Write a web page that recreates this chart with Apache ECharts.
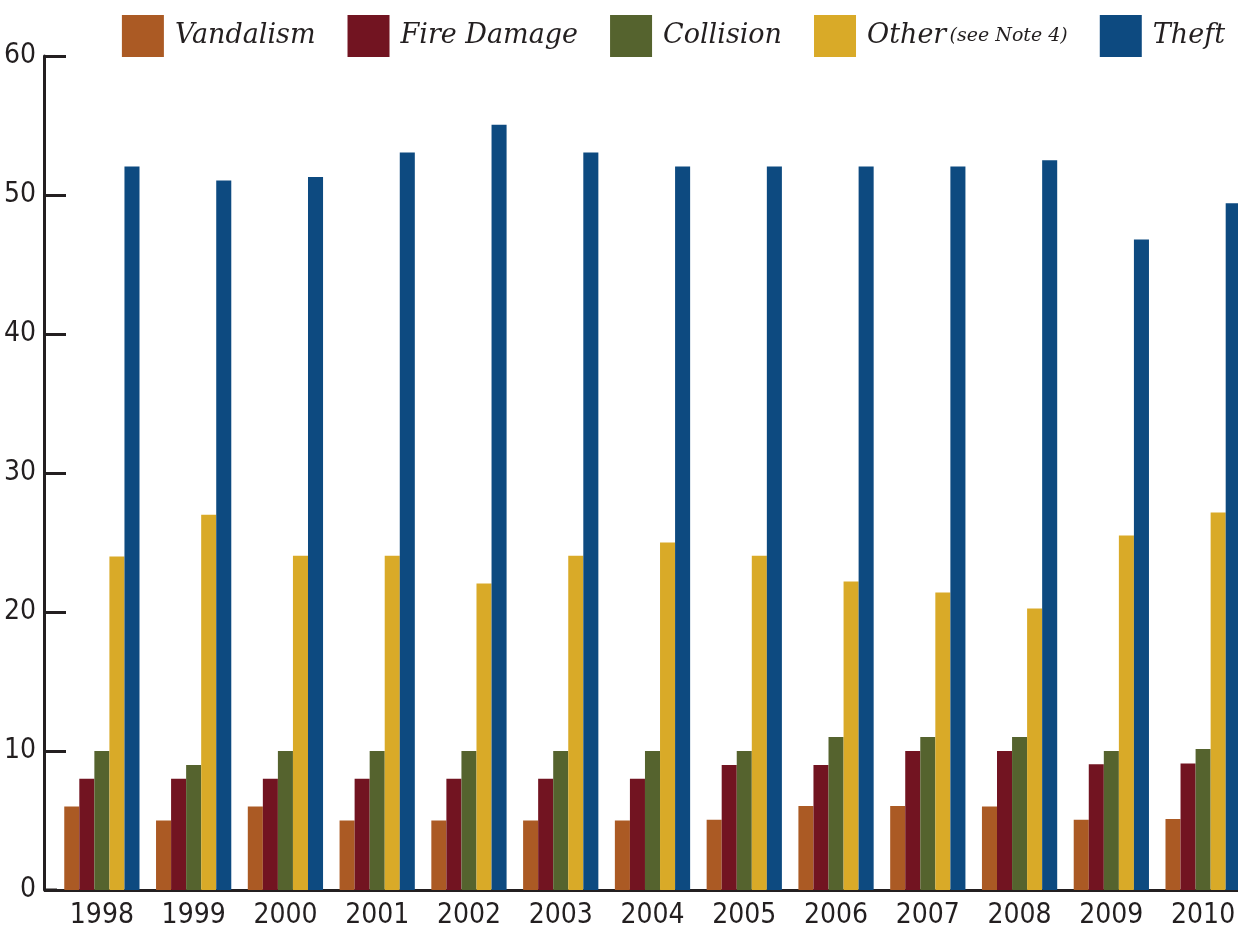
<!DOCTYPE html>
<html>
<head>
    <meta charset="utf-8">
    <title>Vehicle claims by type</title>
    <script src="https://cdn.jsdelivr.net/npm/echarts@6/dist/echarts.min.js"></script>
    <style>
        html, body { margin: 0; padding: 0; background: #fff; }
    </style>
</head>
<body>
    <div id="main" style="width:1238px; height:931px;"></div>
    <script type="text/javascript">
    // data
    var years = ['1998','1999','2000','2001','2002','2003','2004','2005','2006','2007','2008','2009','2010'];
    var vandalism  = [6, 5, 6, 5, 5, 5, 5, 5.05, 6.05, 6.05, 6, 5.05, 5.1];
    var fireDamage = [8, 8, 8, 8, 8, 8, 8, 9, 9, 10, 10, 9.05, 9.1];
    var collision  = [10, 9, 10, 10, 10, 10, 10, 10, 11, 11, 11, 10, 10.15];
    var other      = [24, 27, 24.05, 24.05, 22.05, 24.05, 25, 24.05, 22.2, 21.4, 20.25, 25.5, 27.15];
    var theft      = [52.05, 51.05, 51.3, 53.05, 55.05, 53.05, 52.05, 52.05, 52.05, 52.05, 52.5, 46.8, 49.4];

    var myChart = echarts.init(document.getElementById('main'));

    var labelFont = "'Liberation Sans Narrow', 'DejaVu Sans Condensed', sans-serif";
    var legendFont = "'DejaVu Serif', 'Liberation Serif', serif";
    var inkColor = '#231f20';

    function bar(name, color, data) {
        return {
            name: name,
            type: 'bar',
            barGap: 0,
            barCategoryGap: '18%',
            itemStyle: { color: color },
            data: data
        };
    }

    var option = {
        animation: false,
        legend: {
            top: 10,
            right: 8,
            itemWidth: 42,
            itemHeight: 42,
            itemGap: 32,
            icon: 'rect',
            formatter: function (name) {
                if (name === 'Other') return '{a|Other} {b|(see Note 4)}';
                return '{a|' + name + '}';
            },
            textStyle: {
                padding: [0, 0, 0, 6],
                rich: {
                    a: { fontFamily: legendFont, fontStyle: 'italic', fontSize: 27, color: inkColor },
                    b: { fontFamily: legendFont, fontStyle: 'italic', fontSize: 19, color: inkColor }
                }
            },
            data: ['Vandalism', 'Fire Damage', 'Collision', 'Other', 'Theft']
        },
        grid: {
            left: 56,
            width: 1193,
            top: 56,
            bottom: 41,
            containLabel: false,
            outerBoundsMode: 'none'
        },
        xAxis: {
            type: 'category',
            data: years,
            axisLine: { lineStyle: { color: inkColor, width: 3 } },
            axisTick: { show: false },
            axisLabel: {
                margin: 12,
                fontFamily: labelFont,
                fontSize: 28,
                color: inkColor
            }
        },
        yAxis: {
            type: 'value',
            min: 0,
            max: 60,
            interval: 10,
            offset: 12,
            splitLine: { show: false },
            axisLine: { show: true, lineStyle: { color: inkColor, width: 3 } },
            axisTick: { show: true, inside: true, length: 22, lineStyle: { color: inkColor, width: 3 } },
            axisLabel: {
                margin: 8,
                fontFamily: labelFont,
                fontSize: 28,
                color: inkColor
            }
        },
        // short piece of the base line between the shifted y axis and the grid
        graphic: [{
            type: 'line',
            shape: { x1: 44, y1: 890, x2: 57, y2: 890 },
            style: { stroke: inkColor, lineWidth: 3 }
        }],
        series: [
            bar('Vandalism', '#ab5a24', vandalism),
            bar('Fire Damage', '#721421', fireDamage),
            bar('Collision', '#55632e', collision),
            bar('Other', '#d9aa28', other),
            bar('Theft', '#0d4a80', theft)
        ]
    };

    myChart.setOption(option);
    </script>
</body>
</html>
